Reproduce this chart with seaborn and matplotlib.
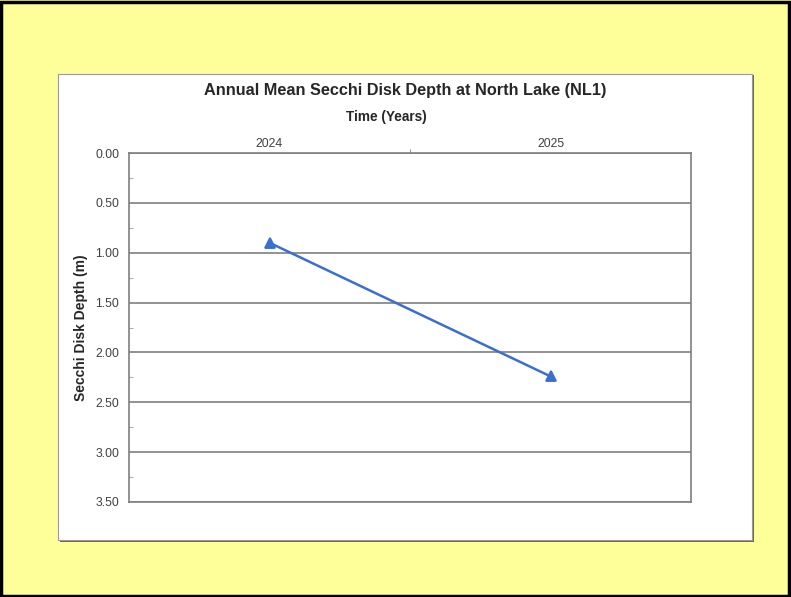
import matplotlib
matplotlib.use("Agg")
import matplotlib.pyplot as plt
from matplotlib.patches import Rectangle
from matplotlib.ticker import MultipleLocator, FixedLocator
import seaborn as sns
import pandas as pd

# data
years = ["2024", "2025"]
secchi_depth = [0.90, 2.24]

sns.set_style("white")
plt.rcParams['font.family'] = ['Liberation Sans', 'DejaVu Sans']

W, H = 791, 597
fig = plt.figure(figsize=(W / 100, H / 100), dpi=100)
fig.patch.set_facecolor("#FFFF99")

# outer black frame and white panel with shadow (behind the axes)
fig.patches.append(Rectangle((1 / W, 1 / H), (W - 3) / W, (H - 3) / H, transform=fig.transFigure,
                             fill=False, edgecolor="black", lw=2.5, zorder=-2))
fig.patches.append(Rectangle((60 / W, (H - 542) / H), 694 / W, 467 / H, transform=fig.transFigure,
                             facecolor="#666666", edgecolor="none", zorder=-2))
fig.patches.append(Rectangle((58 / W, (H - 540) / H), 694 / W, 466 / H, transform=fig.transFigure,
                             facecolor="white", edgecolor="#9a9a9a", lw=0.8, zorder=-1))

ax = fig.add_axes([129 / W, (H - 502) / H, 562 / W, 349 / H])
ax.set_facecolor("none")

df = pd.DataFrame({"Year": years, "Depth": secchi_depth})
sns.pointplot(data=df, x="Year", y="Depth", ax=ax, color="#3A6FD1",
              markers="^", markersize=6.5, linewidth=1.8, errorbar=None)

ax.set_xlim(-0.5, 1.5)
ax.set_ylim(3.5, 0)
ax.yaxis.set_major_locator(MultipleLocator(0.5))
ax.yaxis.set_minor_locator(MultipleLocator(0.25))
ax.set_yticklabels([f"{v:.2f}" for v in ax.get_yticks()])
ax.grid(axis="y", color="#7f7f7f", lw=1.2)
ax.set_axisbelow(True)

ax.xaxis.tick_top()
ax.xaxis.set_minor_locator(FixedLocator([0.5]))
ax.tick_params(axis="x", which="major", length=0, pad=2, labelsize=8.8, labelcolor="#404040")
ax.tick_params(axis="x", which="minor", length=3, direction="out", color="#7f7f7f", top=True, bottom=False)
ax.tick_params(axis="y", which="major", length=0, pad=7, labelsize=8.8, labelcolor="#404040")
ax.tick_params(axis="y", which="minor", length=3, direction="in", color="#9a9a9a", left=True)

for s in ax.spines.values():
    s.set_visible(True)
    s.set_color("#7f7f7f")
    s.set_linewidth(1.2)

ax.set_xlabel("")
ax.set_ylabel("Secchi Disk Depth (m)", fontsize=10, fontweight="bold", labelpad=5)

fig.text(405 / W, 1 - 90 / H, "Annual Mean Secchi Disk Depth at North Lake (NL1)",
         ha="center", va="center", fontsize=11.7, fontweight="bold")
fig.text(386 / W, 1 - 117 / H, "Time (Years)", ha="center", va="center",
         fontsize=9.8, fontweight="bold")

fig.savefig("out.png", dpi=100, facecolor=fig.get_facecolor())
